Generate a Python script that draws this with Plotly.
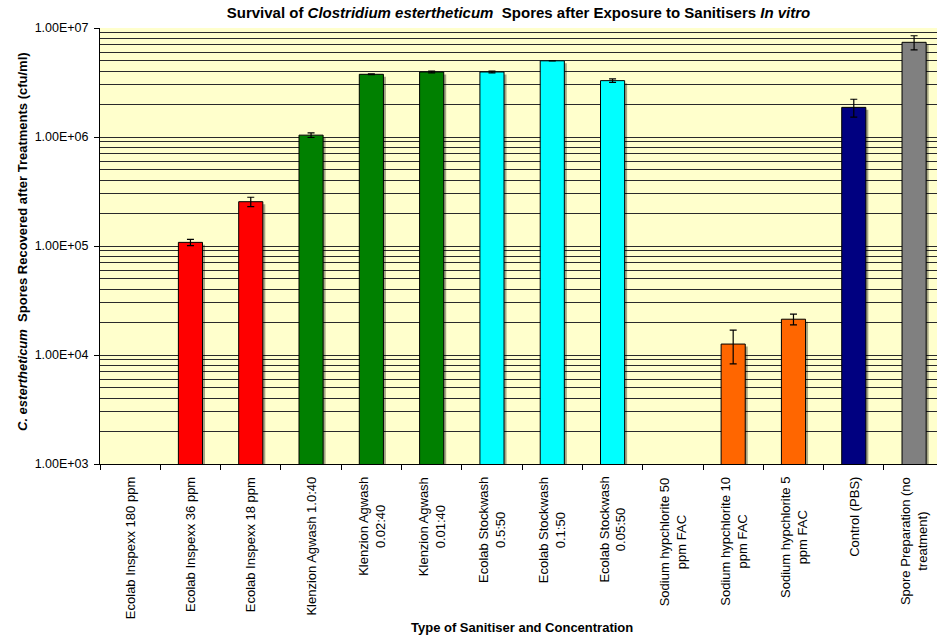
import plotly.graph_objects as go

categories = [
    "Ecolab Inspexx 180 ppm",
    "Ecolab Inspexx 36 ppm",
    "Ecolab Inspexx 18 ppm",
    "Klenzion Agwash 1.0:40",
    "Klenzion Agwash<br>0.02:40",
    "Klenzion Agwash<br>0.01:40",
    "Ecolab Stockwash<br>0.5:50",
    "Ecolab Stockwash<br>0.1:50",
    "Ecolab Stockwash<br>0.05:50",
    "Sodium hypchlorite 50<br>ppm FAC",
    "Sodium hypchlorite 10<br>ppm FAC",
    "Sodium hypchlorite 5<br>ppm FAC",
    "Control (PBS)",
    "Spore Preparation (no<br>treatment)",
]
spores_recovered = [None, 1.08e5, 2.55e5, 1.04e6, 3.76e6, 3.95e6, 3.95e6, 5.0e6, 3.29e6,
                    None, 1.26e4, 2.13e4, 1.87e6, 7.39e6]
error_values = [None, 0.07e5, 0.25e5, 0.05e6, 0.03e6, 0.07e6, 0.07e6, 0.02e6, 0.12e6,
                None, 4.3e3, 0.24e4, 0.35e6, 1.1e6]
bar_colors = ["#FF0000", "#FF0000", "#FF0000", "#008000", "#008000", "#008000",
              "#00FFFF", "#00FFFF", "#00FFFF", "#FF6600", "#FF6600", "#FF6600",
              "#000080", "#808080"]
y_tick_values = [1e3, 1e4, 1e5, 1e6, 1e7]
y_tick_labels = ["1.00E+03", "1.00E+04", "1.00E+05", "1.00E+06", "1.00E+07"]
minor_grid_values = [m * 10 ** e for e in range(3, 7) for m in range(2, 10)]

FONT = "Arial, 'Liberation Sans', sans-serif"

W, H = 937, 637
L, R, T, B = 100, 0, 28, 173
plot_w = W - L - R
plot_h = H - T - B
x_range = [-0.5, 13.38]
px_per_cat = plot_w / (x_range[1] - x_range[0])
px_per_decade = plot_h / 4.0
bar_w = 0.4

# drop shadow (Excel style) derived from the same values
shadow_dx = 2.5 / px_per_cat
shadow_factor = 10 ** (-2.5 / px_per_decade)
shadow_vals = [v * shadow_factor if v is not None else None for v in spores_recovered]

fig = go.Figure()
fig.add_trace(go.Bar(
    x=categories, y=shadow_vals, width=bar_w, offset=-bar_w / 2 + shadow_dx,
    marker=dict(color="rgba(0,0,0,0.35)", line=dict(width=0)),
    showlegend=False, hoverinfo="skip",
))
fig.add_trace(go.Bar(
    x=categories,
    y=spores_recovered,
    width=bar_w, offset=-bar_w / 2,
    marker=dict(color=bar_colors, line=dict(color="black", width=1)),
    error_y=dict(type="data", array=error_values, color="black", thickness=1.2, width=3.5),
    showlegend=False,
))

annotations = []
for c in categories:
    annotations.append(dict(
        x=c, xref="x", y=0, yref="paper", yshift=-11,
        text=c, textangle=-90, showarrow=False, align="center",
        xanchor="center", yanchor="top",
        font=dict(family=FONT, size=13, color="black"),
    ))
annotations.append(dict(
    x=(522 - L) / plot_w, xref="paper", y=(H - B - 627) / plot_h, yref="paper",
    text="<b>Type of Sanitiser and Concentration</b>", showarrow=False,
    xanchor="center", yanchor="middle",
    font=dict(family=FONT, size=13, color="black"),
))
annotations.append(dict(
    x=(22 - L) / plot_w, xref="paper", y=(H - B - 242) / plot_h, yref="paper",
    text="<b><i>C. estertheticum</i>  Spores Recovered after Treatments (cfu/ml)</b>",
    showarrow=False, textangle=-90, xanchor="center", yanchor="middle",
    font=dict(family=FONT, size=13, color="black"),
))

fig.update_layout(
    width=W, height=H,
    margin=dict(l=L, r=R, t=T, b=B, pad=0),
    paper_bgcolor="white",
    plot_bgcolor="#FFFFCC",
    barmode="overlay",
    title=dict(
        text="<b>Survival of <i>Clostridium estertheticum</i>  Spores after Exposure to Sanitisers <i>In vitro</i></b>",
        x=0.5, xref="paper", xanchor="center",
        y=1 - 13 / H, yref="container", yanchor="middle",
        font=dict(family=FONT, size=15, color="black"),
    ),
    xaxis=dict(
        type="category",
        range=x_range,
        showticklabels=False,
        ticks="outside", tickson="boundaries", ticklen=5, tickcolor="black", tickwidth=1,
        showline=True, linecolor="black", linewidth=1,
        showgrid=False, zeroline=False,
    ),
    yaxis=dict(
        type="log",
        range=[3, 7],
        tickmode="array", tickvals=y_tick_values, ticktext=y_tick_labels,
        ticks="outside", ticklen=5, tickcolor="black", tickwidth=1,
        tickfont=dict(family=FONT, size=12.5, color="black"),
        ticklabelstandoff=3,
        showline=True, linecolor="black", linewidth=1,
        showgrid=True, gridcolor="#2a2a2a", gridwidth=1,
        minor=dict(tickmode="array", tickvals=minor_grid_values, showgrid=True,
                   gridcolor="#2a2a2a", gridwidth=1, ticks=""),
        zeroline=False,
    ),
    annotations=annotations,
)

fig.write_html("out.html")
